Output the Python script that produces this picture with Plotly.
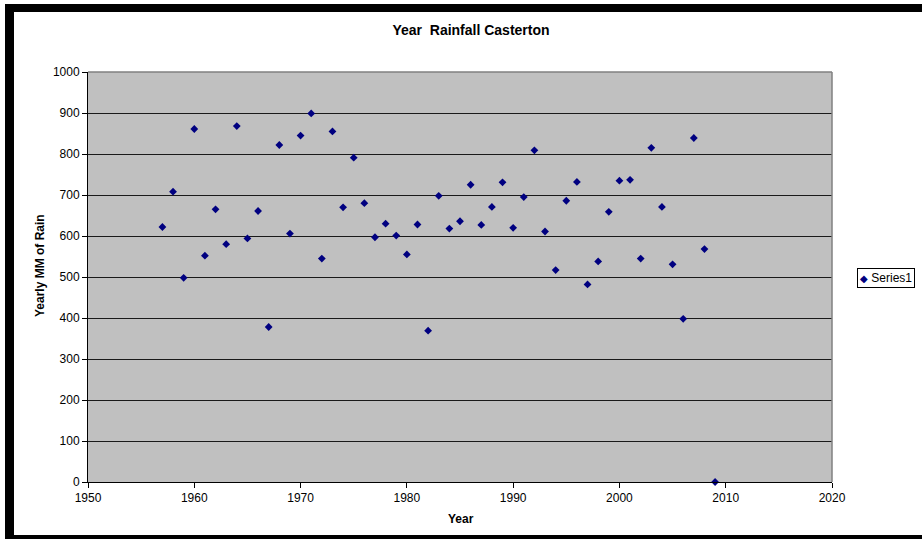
import plotly.graph_objects as go

years = list(range(1957, 2010))
rainfall = [622, 708, 498, 861, 552, 665, 580, 868, 594, 661,
            378, 822, 606, 845, 899, 545, 855, 670, 791, 680,
            597, 630, 601, 555, 628, 369, 698, 618, 636, 725,
            627, 671, 731, 620, 695, 809, 611, 517, 686, 732,
            482, 538, 659, 735, 737, 545, 815, 671, 531, 398,
            839, 568, 0]
series_name = "Series1"
title_text = "Year\u00a0 Rainfall Casterton"
x_title = "Year"
y_title = "Yearly MM of Rain"

W, H = 922, 539
L, R, T, B = 88, 832, 72, 482  # plot area pixel box


def px(x):
    return (x - L) / (R - L)


def py(y):
    return (B - y) / (B - T)


FONT = "Liberation Sans, Arial, sans-serif"
MARKER_COLOR = "#000080"

fig = go.Figure()
fig.add_trace(go.Scatter(
    x=years, y=rainfall, mode="markers", name=series_name,
    marker=dict(symbol="diamond", size=6, color=MARKER_COLOR,
                line=dict(width=0)),
    cliponaxis=False, showlegend=False,
))

shapes = [
    # chart frame (thick top/left, thin bottom)
    dict(type="rect", xref="paper", yref="paper", x0=px(5), x1=px(922), y0=py(4), y1=py(12),
         fillcolor="black", line=dict(width=0), layer="above"),
    dict(type="rect", xref="paper", yref="paper", x0=px(5), x1=px(14), y0=py(4), y1=py(539),
         fillcolor="black", line=dict(width=0), layer="above"),
    dict(type="rect", xref="paper", yref="paper", x0=px(5), x1=px(922), y0=py(535), y1=py(539),
         fillcolor="black", line=dict(width=0), layer="above"),
    # gray plot border top & right
    dict(type="line", xref="paper", yref="paper", x0=0, x1=1, y0=1, y1=1,
         line=dict(color="#808080", width=1.5), layer="above"),
    dict(type="line", xref="paper", yref="paper", x0=1, x1=1, y0=0, y1=1,
         line=dict(color="#808080", width=1.5), layer="above"),
]

fig.update_layout(
    width=W, height=H,
    margin=dict(l=L, r=W - R, t=T, b=H - B, pad=0, autoexpand=False),
    paper_bgcolor="white",
    plot_bgcolor="#C0C0C0",
    font=dict(family=FONT, size=12, color="black"),
    title=dict(text="<b>" + title_text + "</b>", x=471 / W, xref="container", xanchor="center",
               y=1 - 30 / H, yref="container", yanchor="middle",
               font=dict(family=FONT, size=14, color="black")),
    showlegend=False,
    xaxis=dict(range=[1950, 2020], tickmode="linear", tick0=1950, dtick=10,
               showgrid=False, zeroline=False, showline=True, linecolor="black", linewidth=1,
               ticks="outside", ticklen=5, tickcolor="black", tickwidth=1,
               tickfont=dict(family=FONT, size=12, color="black"),
               fixedrange=True),
    yaxis=dict(range=[0, 1000], tickmode="linear", tick0=0, dtick=100,
               showgrid=True, gridcolor="#1a1a1a", gridwidth=1,
               zeroline=False, showline=True, linecolor="black", linewidth=1,
               ticks="outside", ticklen=5, tickcolor="black", tickwidth=1,
               tickfont=dict(family=FONT, size=12, color="black"),
               fixedrange=True),
    shapes=shapes,
    annotations=[
        dict(text="<b>" + x_title + "</b>", xref="paper", yref="paper",
             x=px(461), y=py(519), xanchor="center", yanchor="middle", showarrow=False,
             font=dict(family=FONT, size=12, color="black")),
        dict(text="<b>" + y_title + "</b>", xref="paper", yref="paper",
             x=px(40), y=py(266), xanchor="center", yanchor="middle", showarrow=False,
             textangle=-90, font=dict(family=FONT, size=12, color="black")),
        # legend box
        dict(text="<span style='color:" + MARKER_COLOR + "; font-size:10px'>◆</span> " + series_name,
             xref="paper", yref="paper", x=px(857), y=py(278),
             xanchor="left", yanchor="middle", showarrow=False, align="left",
             bordercolor="black", borderwidth=1, borderpad=2, bgcolor="white",
             font=dict(family=FONT, size=12, color="black")),
    ],
)

fig.write_html("out.html")
